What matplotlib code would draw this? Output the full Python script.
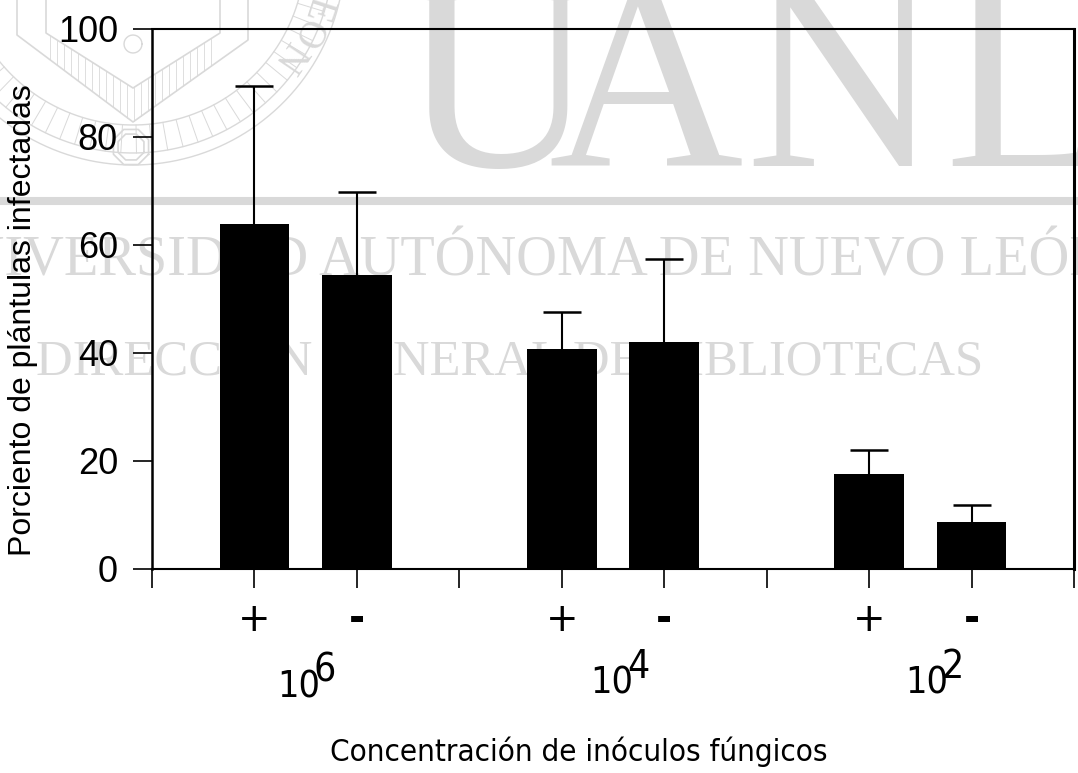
# coding:utf-8
import numpy as np
import matplotlib
matplotlib.use("Agg")
import matplotlib.pyplot as plt

# bar positions are slots on the x axis (ticks 0..9)
bar_slots = [1, 2, 4, 5, 7, 8]
bar_values = [63.8, 54.4, 40.6, 42.0, 17.5, 8.6]
err_upper = [25.6, 15.3, 6.9, 15.4, 4.5, 3.1]
sign_labels = ["+", "-", "+", "-", "+", "-"]
group_bases = ["10", "10", "10"]
group_exps = ["6", "4", "2"]
y_ticks = [0, 20, 40, 60, 80, 100]
all_ticks = list(range(0, 10))

W, H = 1078, 773
GRAY = "#d9d9d9"
fig = plt.figure(figsize=(W / 100, H / 100), dpi=100)


def px(x, y):
    return x / W, 1 - y / H


def gray_line(xs, ys, lw=1.0):
    fig.add_artist(plt.Line2D([x / W for x in xs], [1 - y / H for y in ys], color=GRAY,
                              lw=lw, zorder=0))


def draw_watermark():
    # big letters are placed one by one, they overlap in the scan
    for x, letter in zip([400, 548, 745, 944], "UANL"):
        fig.text(*px(x, 166), letter, family="Liberation Serif", fontsize=194, color=GRAY,
                 ha="left", va="baseline", zorder=0)
    fig.text(*px(517, 275), "UNIVERSIDAD AUTÓNOMA DE NUEVO LEÓN", family="Liberation Serif",
             fontsize=40.6, color=GRAY, ha="center", va="baseline", zorder=0)
    fig.text(*px(510, 375), "DIRECCIÓN GENERAL DE BIBLIOTECAS", family="Liberation Serif",
             fontsize=36.5, color=GRAY, ha="center", va="baseline", zorder=0)
    gray_line([0, W], [201, 201], lw=5.8)

    # seal in the upper left corner
    cx, cy = 133, -47
    t = np.radians(np.arange(0, 181, 1))
    for r in [212, 200, 172]:
        gray_line(cx + r * np.cos(t), cy + r * np.sin(t), lw=1.0)
    for a in np.arange(8, 173, 4.5):
        ar = np.radians(a)
        gray_line([cx + 172 * np.cos(ar), cx + 200 * np.cos(ar)],
                  [cy + 172 * np.sin(ar), cy + 200 * np.sin(ar)], lw=0.7)
    outer_x, outer_y = [17, 17, 133, 248, 248], [0, 35, 122, 40, 0]
    inner_x, inner_y = [46, 46, 133, 220, 220], [0, 33, 88, 33, 0]
    gray_line(outer_x, outer_y, lw=1.2)
    gray_line(inner_x, inner_y, lw=1.2)
    # vertical hatching between the two shield outlines
    for x in np.arange(50, 218, 7.0):
        gray_line([x, x], [np.interp(x, [46, 133, 220], [33, 88, 33]),
                           np.interp(x, [17, 133, 248], [35, 122, 40])], lw=0.6)
    oct_t = np.radians(np.arange(22.5, 400, 45))
    gray_line(131 + 14 * np.cos(oct_t), 147 + 14 * np.sin(oct_t), lw=1.2)
    gray_line(131 + 19 * np.cos(oct_t), 147 + 19 * np.sin(oct_t), lw=1.2)
    circ_t = np.radians(np.arange(0, 361, 15))
    gray_line(133 + 9 * np.cos(circ_t), 44 + 9 * np.sin(circ_t), lw=1.0)
    for lx, ly, rot, letter in [(289, 57, -124, "N"), (307, 33, -116, "O"), (317, 9, -108, "E")]:
        fig.text(*px(lx, ly), letter, family="Liberation Serif", fontsize=28, color=GRAY,
                 rotation=rot, ha="center", va="center", zorder=0)


draw_watermark()

ax = fig.add_axes([152 / W, 1 - 568.5 / H, (1074 - 152) / W, (568.5 - 29) / H], zorder=2)
ax.patch.set_alpha(0)
ax.bar(bar_slots, bar_values, width=0.68, color="black", zorder=3)
eb = ax.errorbar(bar_slots, bar_values, yerr=[[0] * 6, err_upper], fmt="none", ecolor="black",
                 elinewidth=1.5, capsize=13.5, capthick=1.8, zorder=2)
eb[1][0].set_visible(False)

ax.set_xlim(0, 9)
ax.set_ylim(0, 100)
ax.spines["top"].set_linewidth(1.5)
ax.spines["right"].set_linewidth(2.2)
ax.spines["left"].set_linewidth(1.8)
ax.spines["bottom"].set_linewidth(1.5)
ax.set_yticks(y_ticks)
ax.set_xticks(all_ticks)
ax.set_xticklabels([])
ax.tick_params(axis="y", length=13.5, width=1.2, labelsize=26, pad=11)
ax.tick_params(axis="x", length=14, width=1.2)
for t in ax.get_yticklabels():
    t.set_family("Liberation Sans")

for s, lab in zip(bar_slots, sign_labels):
    ax.text(s, -9.5, lab, ha="center", va="center", fontsize=28, family="DejaVu Sans",
            fontweight="bold" if lab == "-" else "normal")

group_x = [277, 590, 905]
group_y = [697, 693, 693]
for x, y, base, exp in zip(group_x, group_y, group_bases, group_exps):
    fig.text(*px(x, y), base, ha="left", va="baseline", fontsize=27, family="DejaVu Sans",
             stretch="condensed")
    fig.text(*px(x + 37, y - 15), exp, ha="left", va="baseline", fontsize=28,
             family="DejaVu Sans", stretch="condensed")

fig.text(*px(579, 752), "Concentración de inóculos fúngicos", ha="center", va="center",
         fontsize=22.5, family="DejaVu Sans", stretch="condensed")
fig.text(*px(23, 320), "Porciento de plántulas infectadas", ha="center", va="center",
         rotation=90, fontsize=23, family="Liberation Sans")

fig.savefig("out.png", dpi=100)
